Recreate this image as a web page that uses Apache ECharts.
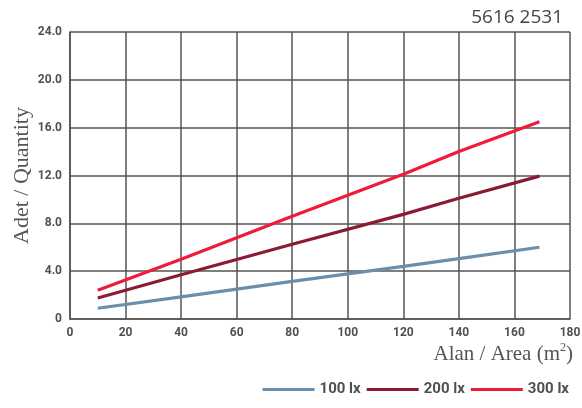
<!DOCTYPE html>
<html><head><meta charset="utf-8">
<script src="https://cdn.jsdelivr.net/npm/echarts@6/dist/echarts.min.js"></script>
<style>html,body{margin:0;padding:0;background:#fff}#c{width:582px;height:408px}</style>
</head><body><div id="c"></div>
<script>
const areas = [10, 40, 80, 120, 140, 169];
const lx100 = [0.9, 1.85, 3.15, 4.4, 5.05, 6.0];
const lx200 = [1.75, 3.7, 6.25, 8.75, 10.1, 11.95];
const lx300 = [2.4, 5.0, 8.6, 12.1, 14.0, 16.5];
const seriesNames = ['100 lx', '200 lx', '300 lx'];
const colors = ['#6a8fae', '#8b1a35', '#ee1c3a'];
const code = '5616 2531';

const chart = echarts.init(document.getElementById('c'));
const lab = {color:'#505050', fontFamily:'Roboto', fontWeight:'bold', fontSize:12};
const data = [lx100, lx200, lx300];
chart.setOption({
  animation:false,
  title:{text:code, right:14, top:3, textStyle:{fontFamily:'Open Sans', fontWeight:'normal', fontSize:19, color:'#444'}},
  grid:{left:70, right:12, top:32, bottom:89, containLabel:false, outerBoundsMode:'none'},
  legend:{right:8, bottom:6, itemWidth:52, itemHeight:3, itemGap:6, icon:'rect',
    data:seriesNames, textStyle:{color:'#505050', fontFamily:'Roboto', fontWeight:'bold', fontSize:15, padding:[0,0,0,0]}},
  xAxis:{type:'value', min:0, max:180, interval:20,
    axisLine:{show:true, lineStyle:{color:'#555', width:1.5}}, axisTick:{show:false},
    axisLabel:Object.assign({margin:8}, lab),
    splitLine:{show:true, lineStyle:{color:'#555', width:1.5}}},
  yAxis:{type:'value', min:0, max:24, interval:4,
    name:'Adet / Quantity', nameLocation:'middle', nameGap:37, nameRotate:90, nameMoveOverlap:false,
    nameTextStyle:{fontFamily:'Liberation Serif', fontSize:22, color:'#555', padding:[0,0,0,0]},
    axisLine:{show:true, lineStyle:{color:'#555', width:1.5}}, axisTick:{show:false},
    axisLabel:Object.assign({margin:8, formatter:v=> v===0 ? '0' : v.toFixed(1)}, lab),
    splitLine:{show:true, lineStyle:{color:'#555', width:1.5}}},
  graphic:[{type:'text', right:9, top:342, style:{
    text:'Alan / Area (m{s|2})', fill:'#555', font:'21px "Liberation Serif"',
    rich:{s:{fontSize:12, verticalAlign:'top', padding:[0,0,12,0], fontFamily:'Liberation Serif', fill:'#555'}}}}],
  series:data.map((d,i)=>({name:seriesNames[i], type:'line', showSymbol:false, symbol:'none',
    data:areas.map((a,j)=>[a,d[j]]), lineStyle:{width:3.2, color:colors[i]}, itemStyle:{color:colors[i]}}))
});
</script></body></html>
